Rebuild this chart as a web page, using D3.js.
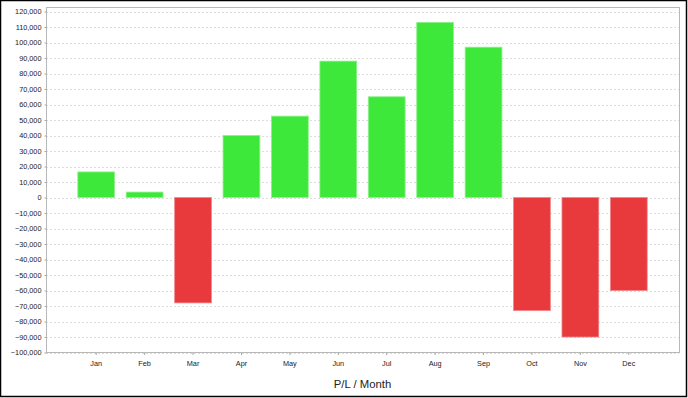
<!DOCTYPE html>
<meta charset="utf-8">
<script src="https://d3js.org/d3.v7.min.js"></script>
<style>
body { margin: 0; background: #fff; font-family: 'Liberation Sans', Arial, sans-serif; }
.axis line { stroke: #a8a8a8; }
.axis text { fill: #222; font-size: 7.3px; }
.grid line { stroke: #dcdcdc; stroke-dasharray: 2,2; }
</style>
<svg width="688" height="398"></svg>
<script>
// data
var months = ["Jan", "Feb", "Mar", "Apr", "May", "Jun", "Jul", "Aug", "Sep", "Oct", "Nov", "Dec"];
var profit = [16500, 3500, -68000, 40000, 52500, 88000, 65000, 113000, 97000, -73000, -90000, -60000];
var yTicks = d3.range(-100000, 120001, 10000);

var svg = d3.select("svg"),
    plot = {left: 46, right: 679, top: 7.5, bottom: 352.5};

// outer frame
svg.append("rect")
  .attr("x", 0.5).attr("y", 0.5)
  .attr("width", 686).attr("height", 396)
  .attr("fill", "#fff")
  .attr("stroke", "#000")
  .attr("stroke-width", 1.5);

var x = d3.scaleBand()
  .domain(months)
  .range([plot.left + 26, plot.right - 26])
  .paddingInner(0.24)
  .paddingOuter(0.12);

var y = d3.scaleLinear()
  .domain([-100000, 122600])
  .range([plot.bottom, plot.top]);

// grid
svg.append("g")
  .attr("class", "grid")
  .selectAll("line")
  .data(yTicks)
  .enter().append("line")
  .attr("x1", plot.left)
  .attr("x2", plot.right)
  .attr("y1", function(d) { return Math.round(y(d)) + 0.5; })
  .attr("y2", function(d) { return Math.round(y(d)) + 0.5; });

// bars
svg.append("g")
  .selectAll("rect")
  .data(profit)
  .enter().append("rect")
  .attr("x", function(d, i) { return x(months[i]); })
  .attr("y", function(d) { return y(Math.max(0, d)); })
  .attr("width", x.bandwidth())
  .attr("height", function(d) { return Math.abs(y(d) - y(0)); })
  .attr("fill", function(d) { return d >= 0 ? "#3ee83b" : "#e8393d"; })
  .attr("stroke", function(d) { return d >= 0 ? "#8ef08a" : "#f0878a"; })
  .attr("stroke-width", 0.8);

// plot border
svg.append("rect")
  .attr("x", plot.left + 0.5).attr("y", plot.top)
  .attr("width", plot.right - plot.left)
  .attr("height", plot.bottom - plot.top)
  .attr("fill", "none")
  .attr("stroke", "#b8b8b8");

// axes
svg.append("g")
  .attr("class", "axis")
  .attr("transform", "translate(" + (plot.left + 0.5) + ",0)")
  .call(d3.axisLeft(y).tickValues(yTicks).tickSize(2).tickPadding(3).tickFormat(d3.format(",")))
  .call(function(g) { g.select(".domain").remove(); });

svg.append("g")
  .attr("class", "axis")
  .attr("transform", "translate(0," + (plot.bottom + 0.5) + ")")
  .call(d3.axisBottom(x).tickSize(2).tickPadding(6))
  .call(function(g) { g.select(".domain").remove(); });

svg.append("text")
  .attr("x", (plot.left + plot.right) / 2)
  .attr("y", 387.5)
  .attr("text-anchor", "middle")
  .attr("font-size", 11.3)
  .attr("fill", "#222")
  .text("P/L / Month");
</script>
